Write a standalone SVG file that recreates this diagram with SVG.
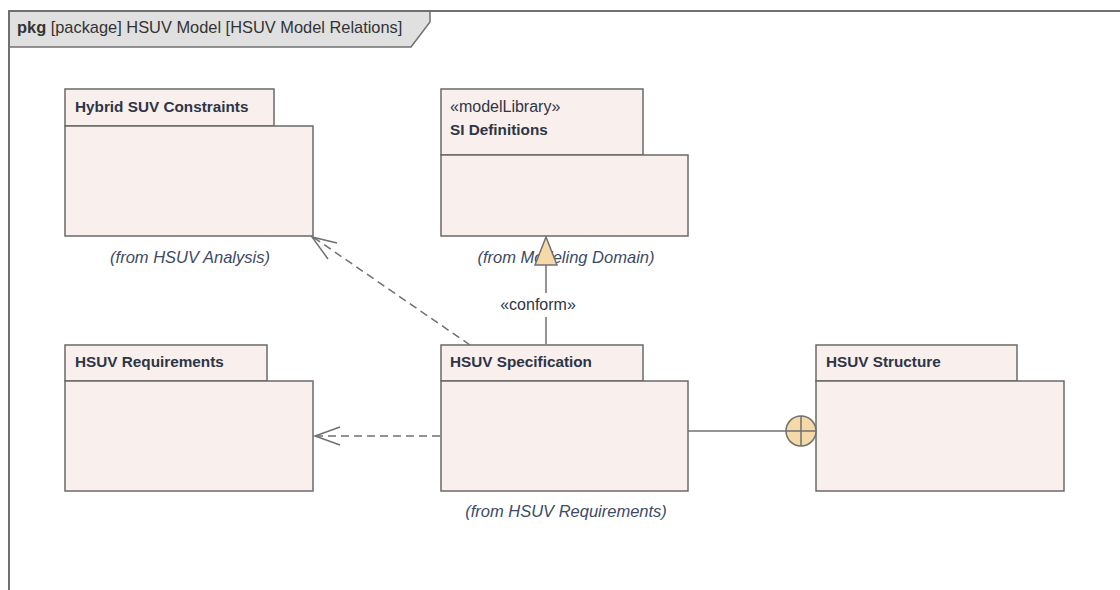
<svg xmlns="http://www.w3.org/2000/svg" width="1120" height="590" viewBox="0 0 1120 590">
<defs>
<style>
.frame{fill:none;stroke:#707070;stroke-width:2}
.tab{fill:#e0e0e0;stroke:#707070;stroke-width:1.5}
.pk{fill:#f9f0ed;stroke:#6a6a6a;stroke-width:1.5}
.t{font-family:"Liberation Sans",Arial,sans-serif;font-size:16.4px;fill:#333}
.name{font-family:"Liberation Sans",Arial,sans-serif;font-size:15.3px;font-weight:bold;fill:#2e3547}
.st{font-family:"Liberation Sans",Arial,sans-serif;font-size:16px;fill:#2e3547}
.from{font-family:"Liberation Sans",Arial,sans-serif;font-size:16.5px;font-style:italic;fill:#3d4a66;text-anchor:middle}
.dash{fill:none;stroke:#707070;stroke-width:1.5;stroke-dasharray:8,5}
.solid{fill:none;stroke:#707070;stroke-width:1.5}
.head{fill:none;stroke:#707070;stroke-width:1.5}
.sym{fill:#f5d9a8;stroke:#707070;stroke-width:1.5}
</style>
</defs>
<rect width="1120" height="590" fill="#ffffff"/>
<g id="frame">
<path class="tab" d="M9,11 L430,11 L430,22 L411,47 L9,47 Z"/>
<path class="frame" d="M9,590 L9,11 L1120,11"/>
<text class="t" x="17" y="33"><tspan font-weight="bold">pkg</tspan> [package] HSUV Model [HSUV Model Relations]</text>
</g>
<g id="node-hybrid-suv-constraints">
<rect class="pk" x="65" y="89" width="209" height="37"/>
<rect class="pk" x="65" y="126" width="248" height="110"/>
<text class="name" x="75" y="112">Hybrid SUV Constraints</text>
<text class="from" x="190" y="263">(from HSUV Analysis)</text>
</g>
<g id="node-si-definitions">
<rect class="pk" x="441" y="89" width="202" height="66"/>
<rect class="pk" x="441" y="155" width="247" height="81"/>
<text class="st" x="450" y="112">«modelLibrary»</text>
<text class="name" x="450" y="135">SI Definitions</text>
<text class="from" x="566" y="263">(from Modeling Domain)</text>
</g>
<g id="node-hsuv-requirements">
<rect class="pk" x="65" y="345" width="202" height="36"/>
<rect class="pk" x="65" y="381" width="248" height="110"/>
<text class="name" x="75" y="367">HSUV Requirements</text>
</g>
<g id="node-hsuv-specification">
<rect class="pk" x="441" y="345" width="202" height="36"/>
<rect class="pk" x="441" y="381" width="247" height="110"/>
<text class="name" x="450" y="367">HSUV Specification</text>
<text class="from" x="566" y="517">(from HSUV Requirements)</text>
</g>
<g id="node-hsuv-structure">
<rect class="pk" x="816" y="345" width="201" height="36"/>
<rect class="pk" x="816" y="381" width="248" height="110"/>
<text class="name" x="826" y="367">HSUV Structure</text>
</g>
<g id="connectors">
<path class="dash" d="M470,345 L313,237"/>
<path class="head" d="M337,243 L312,237 L328,259"/>
<path class="dash" d="M440,436 L315,436"/>
<path class="head" d="M340,427 L315,436 L340,445"/>
<path class="solid" d="M546,344 L546,317"/>
<path class="solid" d="M546,293 L546,265"/>
<path class="sym" d="M546,237 L557,265 L535,265 Z"/>
<text class="st" x="538" y="310" text-anchor="middle" font-size="17">«conform»</text>
<path class="solid" d="M688,431 L786,431"/>
<circle class="sym" cx="801" cy="431" r="15"/>
<path class="solid" d="M786,431 L816,431 M801,416 L801,446"/>
</g>
</svg>
